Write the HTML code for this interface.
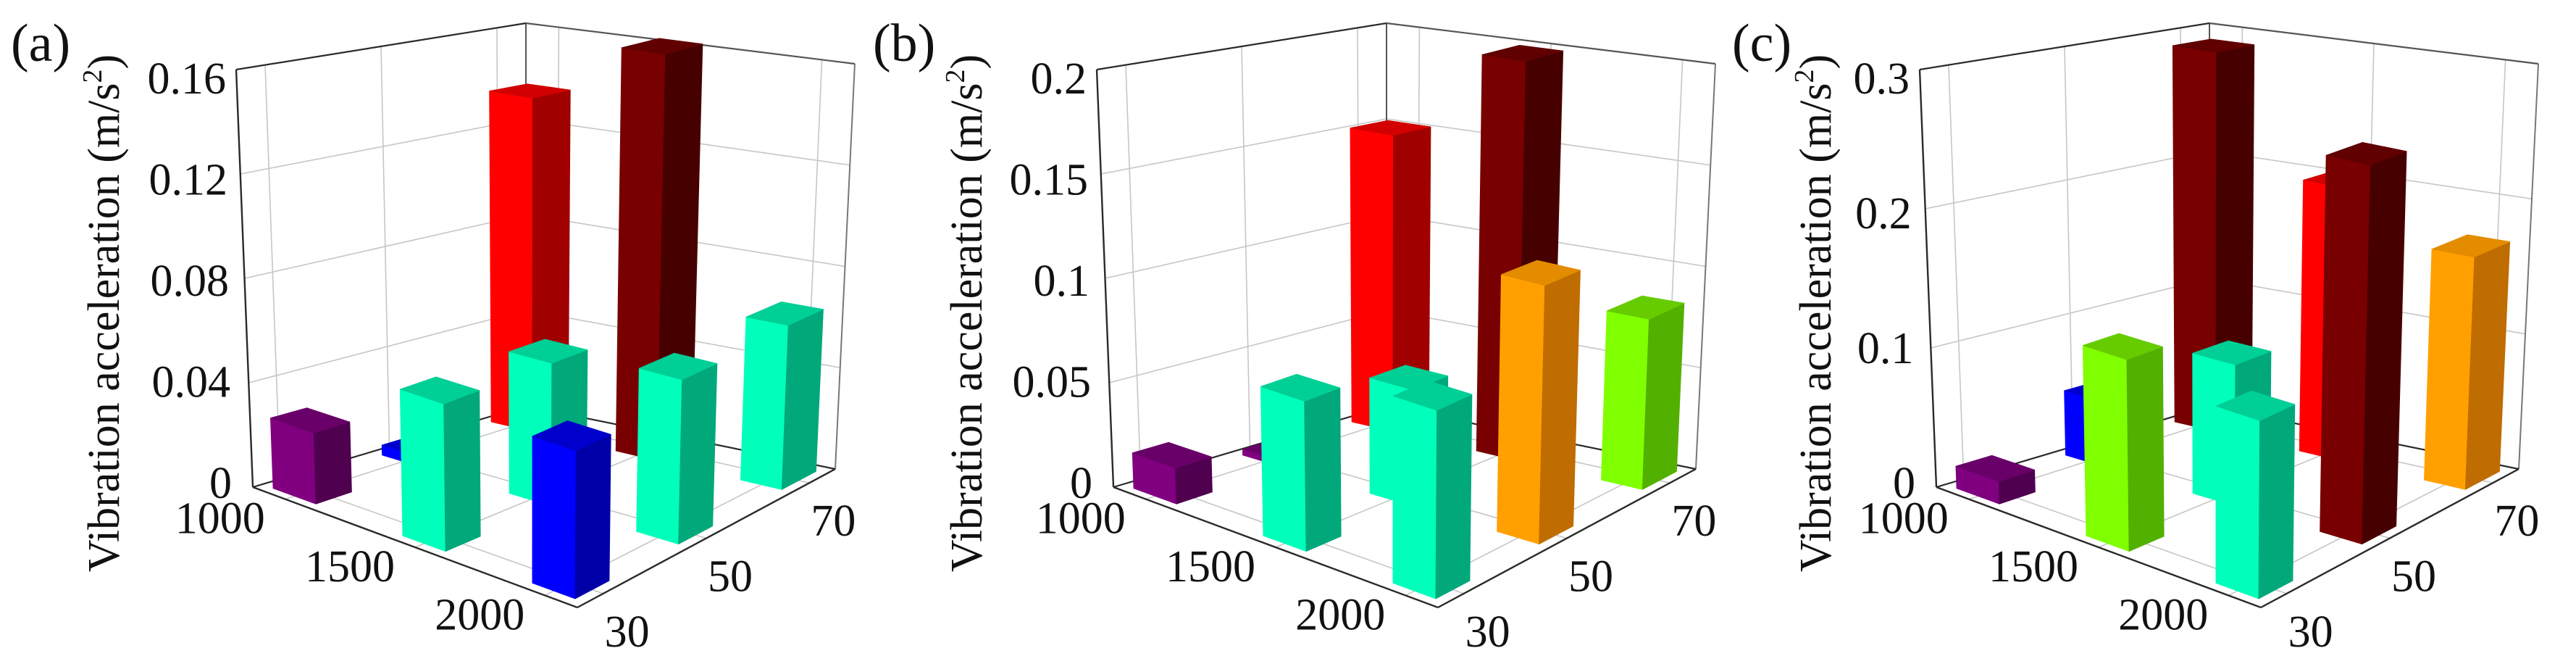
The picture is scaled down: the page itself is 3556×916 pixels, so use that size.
<!DOCTYPE html>
<html><head><meta charset="utf-8"><style>
html,body{margin:0;padding:0;background:#fff;}
svg{display:block;}
text{font-family:"Liberation Serif","Times New Roman",serif;fill:#111;}
</style></head><body>
<svg id="fig" width="3556" height="916" viewBox="0 0 3556 916" xmlns="http://www.w3.org/2000/svg"></svg>
<script>
// ---- data ----
const rpmCategories = ['1000', '1500', '2000'];
const speedCategories = ['30', '50', '70'];
const panelLabels = ['(a)', '(b)', '(c)'];
const ticksA = [0, 0.04, 0.08, 0.12, 0.16];
const ticksB = [0, 0.05, 0.1, 0.15, 0.2];
const ticksC = [0, 0.1, 0.2, 0.3];
const tickTextA = ['0', '0.04', '0.08', '0.12', '0.16'];
const tickTextB = ['0', '0.05', '0.1', '0.15', '0.2'];
const tickTextC = ['0', '0.1', '0.2', '0.3'];
// values[rpm][speed]
const valuesA = [[0.027, 0.004, 0.136], [0.055, 0.055, 0.162], [0.054, 0.062, 0.064]];
const valuesB = [[0.017, 0.003, 0.151], [0.07, 0.056, 0.199], [0.086, 0.122, 0.083]];
const valuesC = [[0.016, 0.048, 0.29], [0.134, 0.102, 0.204], [0.122, 0.268, 0.17]];
const colorsA = [['purple', 'blue', 'red'], ['cyan', 'cyan', 'darkred'], ['blue', 'cyan', 'cyan']];
const colorsB = [['purple', 'purple', 'red'], ['cyan', 'cyan', 'darkred'], ['cyan', 'orange', 'green']];
const colorsC = [['purple', 'blue', 'darkred'], ['green', 'cyan', 'red'], ['cyan', 'darkred', 'orange']];

const palette = {
  purple: ['#800080', '#4f004f', '#690069'],
  red: ['#ff0000', '#a00000', '#d20000'],
  darkred: ['#780000', '#470000', '#600000'],
  cyan: ['#00ffbb', '#00a87a', '#00cf96'],
  blue: ['#0000ff', '#0000a8', '#0000cc'],
  orange: ['#ffa000', '#bf6c00', '#e38c00'],
  green: ['#80ff00', '#52b000', '#66cc00']
};

const svg = document.getElementById('fig');
const NS = 'http://www.w3.org/2000/svg';
function mk(tag, attrs, parent) {
  const e = document.createElementNS(NS, tag);
  for (const k in attrs) e.setAttribute(k, attrs[k]);
  (parent || svg).appendChild(e);
  return e;
}
const catPos = [0.1, 0.5, 0.9];

function drawPanel(idx, dx, ticks, tickText, values, colors, titleX) {
  const g = mk('g', {});
  
  
  const L = [349 + dx, 672], F = [797 + dx, 838], R = [1153 + dx, 647], B = [726 + dx, 560];
  const TL = [326 + dx, 96], TF = [801 + dx, 231], TR = [1180 + dx, 88], TB = [726 + dx, 32];
  const maxV = ticks[ticks.length - 1];
  function bil(a, b, c, d, u, v, k) {
    return a[k] * (1 - u) * (1 - v) + b[k] * u * (1 - v) + c[k] * u * v + d[k] * (1 - u) * v;
  }
  function pt(u, v, t) {
    const fx = bil(L, F, R, B, u, v, 0), fy = bil(L, F, R, B, u, v, 1);
    const tx = bil(TL, TF, TR, TB, u, v, 0), ty = bil(TL, TF, TR, TB, u, v, 1);
    return [fx + (tx - fx) * t, fy + (ty - fy) * t];
  }
  function line(p, q, stroke, w, name) {
    const e = mk('line', {x1: p[0], y1: p[1], x2: q[0], y2: q[1], stroke: stroke, 'stroke-width': w}, g);
    
    
  }
  const grid = '#c6c6c6';
  ticks.forEach((tv, i) => {
    if (i === 0 || i === ticks.length - 1) return;
    const t = tv / maxV;
    line(pt(0, 0, t), pt(0, 1, t), grid, 1.6, 'left-wall-gridline');
    line(pt(0, 1, t), pt(1, 1, t), grid, 1.6, 'right-wall-gridline');
  });
  catPos.forEach(c => {
    line(pt(0, c, 0), pt(0, c, 1), grid, 1.6, 'left-wall-vertical-gridline');
    line(pt(c, 1, 0), pt(c, 1, 1), grid, 1.6, 'right-wall-vertical-gridline');
    line(pt(c, 0, 0), pt(c, 1, 0), grid, 1.6, 'floor-gridline');
    line(pt(0, c, 0), pt(1, c, 0), grid, 1.6, 'floor-gridline');
  });
  const edge = '#2a2a2a';
  line(pt(0, 0, 0), pt(0, 0, 1), edge, 2.4, 'z-axis-line');
  line(pt(0, 1, 0), pt(0, 1, 1), '#555', 2, 'back-edge');
  line(pt(1, 1, 0), pt(1, 1, 1), '#777', 2, 'right-edge');
  line(pt(0, 0, 1), pt(0, 1, 1), edge, 2.2, 'top-left-edge');
  line(pt(0, 1, 1), pt(1, 1, 1), '#555', 2.2, 'top-right-edge');
  line(pt(0, 0, 0), pt(0, 1, 0), edge, 2.2, 'floor-back-left-edge');
  line(pt(0, 1, 0), pt(1, 1, 0), edge, 2.2, 'floor-back-right-edge');
  line(pt(0, 0, 0), pt(1, 0, 0), edge, 2.4, 'rpm-axis-line');
  line(pt(1, 0, 0), pt(1, 1, 0), edge, 2.4, 'speed-axis-line');

  const bars = [];
  for (let i = 0; i < 3; i++) for (let j = 0; j < 3; j++) bars.push([i, j]);
  bars.sort((a, b) => (catPos[a[0]] - catPos[a[1]]) - (catPos[b[0]] - catPos[b[1]]));
  const hw = 0.066;
  bars.forEach(([i, j]) => {
    const u = catPos[i], v = catPos[j], t = values[i][j] / maxV;
    const u0 = u - hw, u1 = u + hw, v0 = v - hw, v1 = v + hw;
    const col = palette[colors[i][j]];
    const bg = mk('g', {}, g);
    
    
    const poly = (pts, fill) => mk('polygon', {points: pts.map(p => p[0].toFixed(1) + ',' + p[1].toFixed(1)).join(' '), fill: fill, stroke: fill, 'stroke-width': 0.8, 'stroke-linejoin': 'round'}, bg);
    poly([pt(u0, v0, 0), pt(u1, v0, 0), pt(u1, v0, t), pt(u0, v0, t)], col[0]);
    poly([pt(u1, v0, 0), pt(u1, v1, 0), pt(u1, v1, t), pt(u1, v0, t)], col[1]);
    poly([pt(u0, v0, t), pt(u1, v0, t), pt(u1, v1, t), pt(u0, v1, t)], col[2]);
  });

  ticks.forEach((tv, i) => {
    const t = tv / maxV;
    const p = pt(0, 0, t);
    const x = p[0] - 29 + 15 * t, y = p[1] - 6 + 18 * t + 21;
    const e = mk('text', {x: x, y: y, 'font-size': 62, 'text-anchor': 'end'}, g);
    e.textContent = tickText[i];
    
    
  });
  rpmCategories.forEach((c, i) => {
    const p = pt(catPos[i], 0, 0);
    const e = mk('text', {x: p[0] - 90, y: p[1] + 26 + 21, 'font-size': 62, 'text-anchor': 'middle'}, g);
    e.textContent = c;
    
    
  });
  speedCategories.forEach((c, i) => {
    const p = pt(1, catPos[i], 0);
    const e = mk('text', {x: p[0] + 33, y: p[1] + 52 + 21, 'font-size': 62, 'text-anchor': 'middle'}, g);
    e.textContent = c;
    
    
  });
  const tt = mk('text', {x: 0, y: 0, 'font-size': 62, 'text-anchor': 'middle', transform: 'translate(' + titleX + ',432) rotate(-90)'}, g);
  
  
  tt.appendChild(document.createTextNode('Vibration acceleration (m/s'));
  const sup = mk('tspan', {'font-size': 38, dy: -24}, tt);
  sup.textContent = '2';
  const close = mk('tspan', {dy: 24}, tt);
  close.textContent = ')';
  const pl = mk('text', {x: [15, 1205, 2391][idx], y: 84, 'font-size': 74}, g);
  pl.textContent = panelLabels[idx];
  
  
}

drawPanel(0, 0, ticksA, tickTextA, valuesA, colorsA, 164);
drawPanel(1, 1188, ticksB, tickTextB, valuesB, colorsB, 1355);
drawPanel(2, 2324, ticksC, tickTextC, valuesC, colorsC, 2527);
</script>
</body></html>
